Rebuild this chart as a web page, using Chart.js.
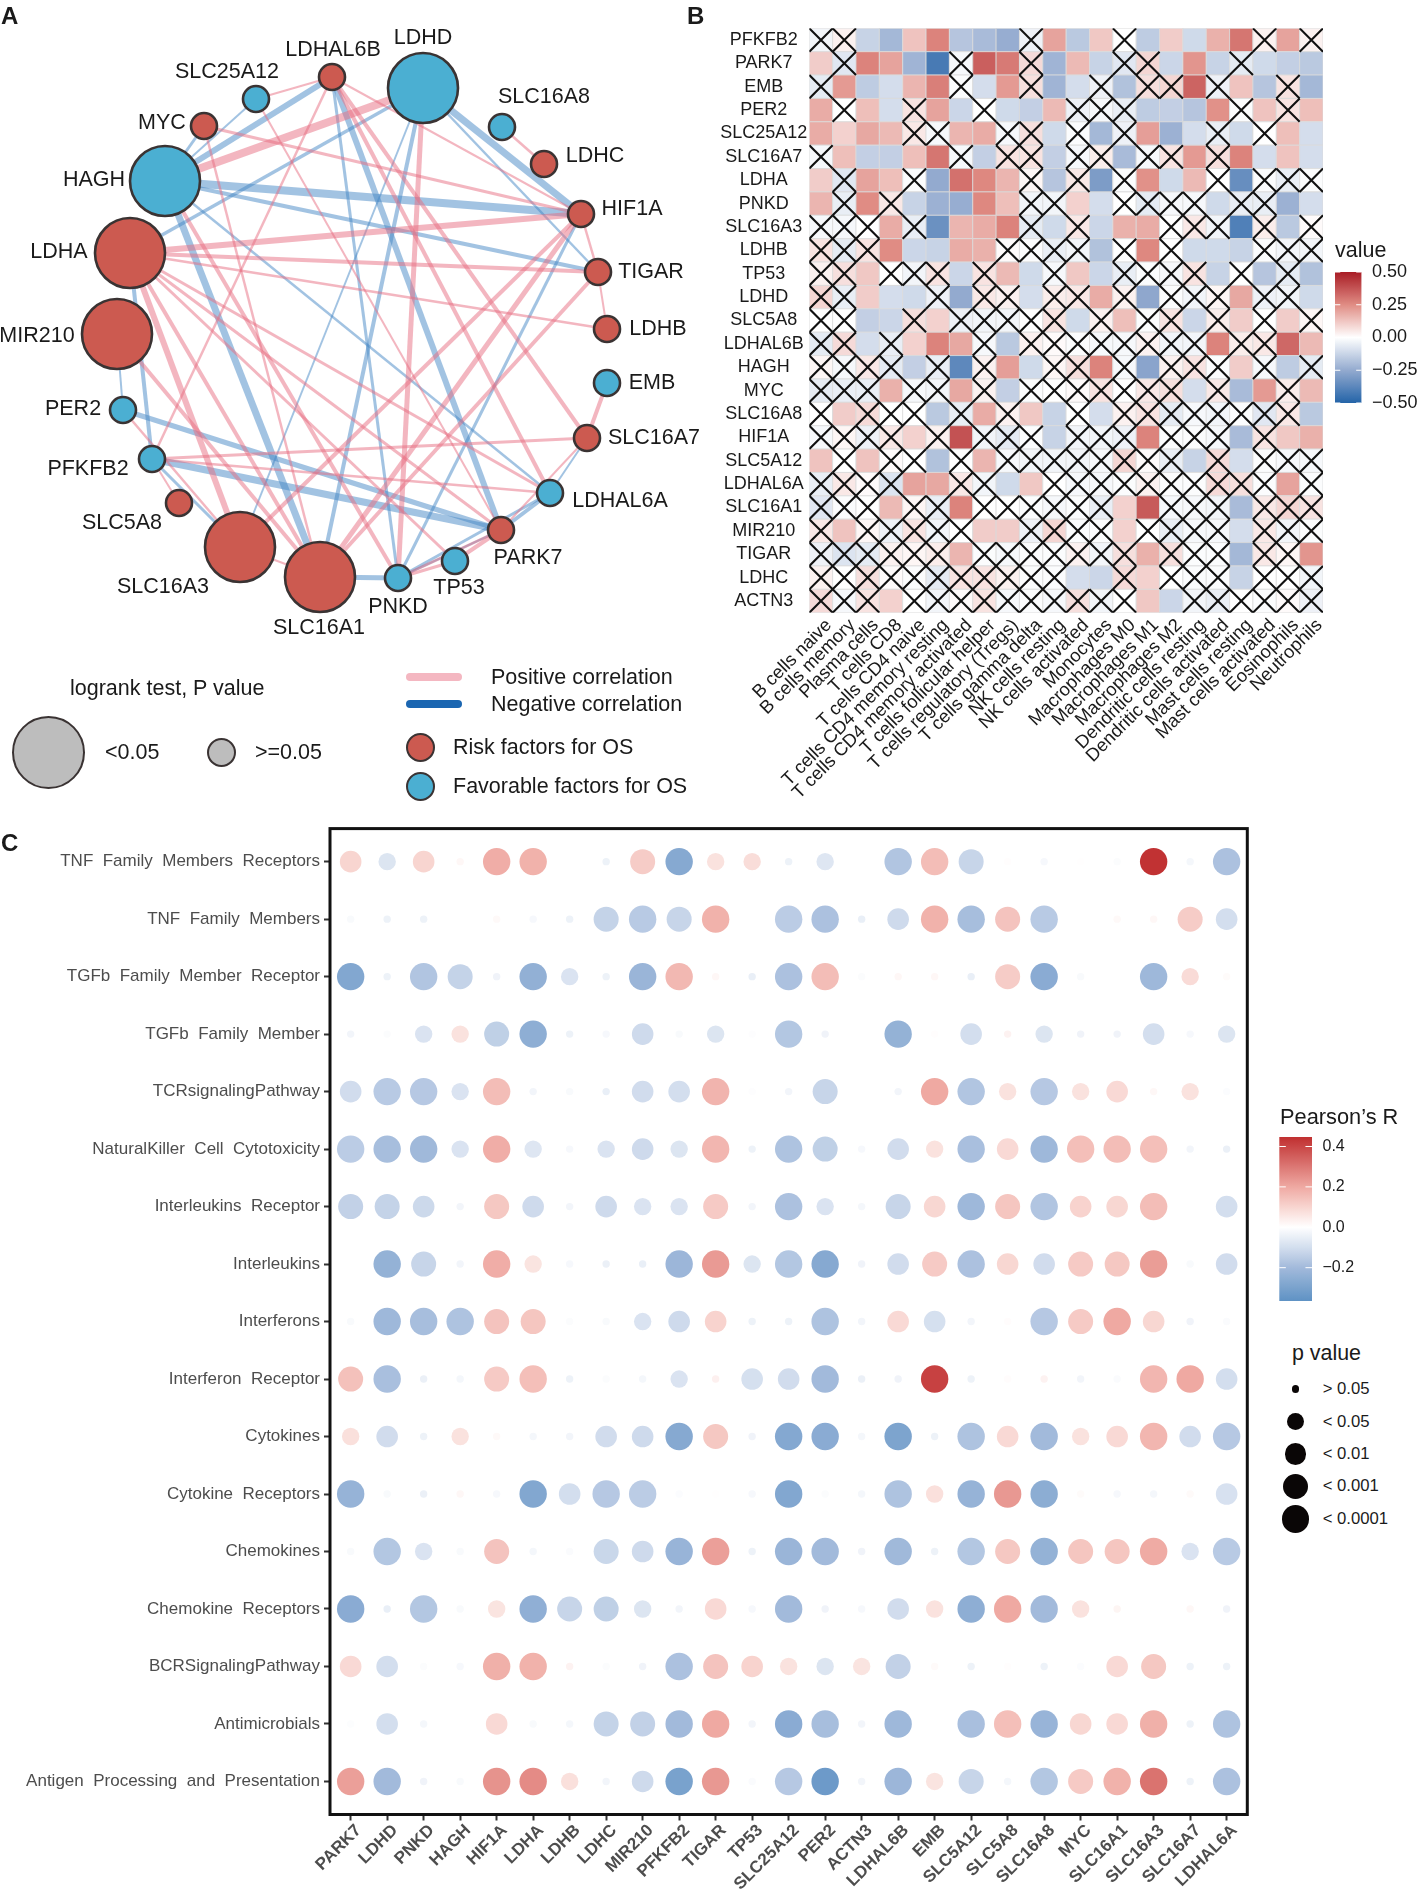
<!DOCTYPE html>
<html>
<head>
<meta charset="utf-8">
<title>Lactate genes</title>
<script src="https://cdn.jsdelivr.net/npm/chart.js@4/dist/chart.umd.min.js"></script>
<style>
  html, body { margin: 0; background: #fff; }
  #page { position: relative; width: 1418px; height: 1889px; overflow: hidden; font-family: "Liberation Sans", Arial, sans-serif; color: #1a1a1a; }
  #page canvas { position: absolute; }
  .txt { position: absolute; white-space: nowrap; transform: translateY(-50%); }
  .dot { position: absolute; border-radius: 50%; box-sizing: border-box; }
  .bar { position: absolute; border-radius: 4px; }
</style>
</head>
<body>
<div id="page">
  <canvas id="net" width="720" height="820" style="left:0;top:0"></canvas>
  <canvas id="heat" width="640" height="830" style="left:700px;top:0"></canvas>
  <canvas id="heatBar" width="93" height="150" style="left:1325px;top:262px"></canvas>
  <canvas id="dots" width="1260" height="1069" style="left:0;top:820px"></canvas>
  <canvas id="dotsBar" width="120" height="184" style="left:1269px;top:1127px"></canvas>
</div>
<script>
// Panel A: network, layout
const nodeNames = ["LDHD","SLC16A8","LDHC","HIF1A","TIGAR","LDHB","EMB","SLC16A7","LDHAL6A","PARK7","TP53","PNKD","SLC16A1","SLC16A3","SLC5A8","PFKFB2","PER2","MIR210","LDHA","HAGH","MYC","SLC25A12","LDHAL6B"];
const nodeX = [423,502,544,581,598,607,607,587,550,501,455,398,320,240,179,152,123,117,130,165,204,256,332];
const nodeY = [88,127,164,214,272,329,383,438,493,530,561,578,577,547,503,459,410,334,253,181,126,99,77];
const nodeSignificant = [1,0,0,0,0,0,0,0,0,0,0,0,1,1,0,0,0,1,1,1,0,0,0];
const nodeRisk = [0,0,1,1,1,1,0,1,0,1,0,0,1,1,1,0,0,1,1,0,1,0,1];
const labelX = [423,544,595,632,651,658,652,654,620,528,459,398,319,163,122,88,73,37,59,94,162,227,333];
const labelY = [38,97,156,209,272,329,383,438,501,558,588,607,628,587,523,469,409,336,252,180,123,72,50];
const posEdges = [
  ["LDHA","HIF1A",6],["LDHA","TIGAR",4],["LDHA","LDHB",2.5],["HAGH","LDHD",8],["MYC","HIF1A",3],
  ["LDHAL6B","SLC25A12",2],["LDHAL6B","HIF1A",2],["SLC16A8","LDHC",2.5],["HIF1A","TIGAR",2.5],
  ["TIGAR","LDHB",2],["LDHAL6B","LDHAL6A",4],["LDHAL6B","SLC16A7",4],["LDHAL6B","PFKFB2",2.5],["SLC25A12","PARK7",2],
  ["MYC","SLC16A1",2.5],["HAGH","PNKD",4],["LDHA","LDHAL6A",3],["LDHA","SLC16A3",6],["LDHA","TP53",3],
  ["LDHA","SLC16A1",4],["LDHA","PARK7",3],["PFKFB2","SLC16A7",3],["PFKFB2","LDHAL6A",2.5],["SLC16A3","SLC16A1",2],
  ["SLC16A1","HIF1A",5],["SLC16A1","TIGAR",4],["SLC16A3","HIF1A",4],["PNKD","TP53",3],["PNKD","PARK7",3],
  ["LDHD","PNKD",5],["EMB","SLC16A7",4],["PARK7","TP53",4],["PFKFB2","SLC5A8",2],["PER2","SLC16A3",2.5],
  ["MIR210","SLC16A1",4],["SLC16A7","PARK7",2]
];
const negEdges = [
  ["LDHD","HIF1A",7],["LDHD","TIGAR",2.5],["HAGH","HIF1A",8],["HAGH","TIGAR",4],["LDHA","LDHD",3.5],
  ["HAGH","LDHAL6B",6],["HAGH","MYC",3],["HAGH","SLC25A12",2],["LDHAL6B","PARK7",6],["LDHAL6B","PNKD",3],
  ["HAGH","SLC16A1",7],["HAGH","LDHAL6A",2.5],["LDHA","PFKFB2",4],["MIR210","PER2",2],["PFKFB2","SLC16A3",3],
  ["PER2","PARK7",5],["PFKFB2","PARK7",7],["SLC16A1","PNKD",5],["PNKD","PARK7",2],["PNKD","LDHAL6A",3],
  ["PNKD","HIF1A",3],["LDHD","SLC16A1",4],["LDHD","SLC16A3",2],["SLC16A7","LDHAL6A",2],["PARK7","LDHAL6A",4]
];

// Panel B: correlation heatmap
const heatGenes = ["PFKFB2","PARK7","EMB","PER2","SLC25A12","SLC16A7","LDHA","PNKD","SLC16A3","LDHB","TP53","LDHD","SLC5A8","LDHAL6B","HAGH","MYC","SLC16A8","HIF1A","SLC5A12","LDHAL6A","SLC16A1","MIR210","TIGAR","LDHC","ACTN3"];
const immuneCells = ["B cells naive","B cells memory","Plasma cells","T cells CD8","T cells CD4 naive","T cells CD4 memory resting","T cells CD4 memory activated","T cells follicular helper","T cells regulatory (Tregs)","T cells gamma delta","NK cells resting","NK cells activated","Monocytes","Macrophages M0","Macrophages M1","Macrophages M2","Dendritic cells resting","Dendritic cells activated","Mast cells resting","Mast cells activated","Eosinophils","Neutrophils"];
const heatValues = [
  [-.03,.03,-.13,-.21,.13,.27,-.17,-.2,-.24,-.04,.2,-.16,.12,0,-.15,.11,-.11,.17,.3,.03,.2,.03],
  [.11,-.07,.27,.2,-.22,-.42,-.02,.35,.29,.08,-.22,.15,-.13,-.07,.09,-.12,.23,-.13,-.06,-.11,-.14,-.16],
  [-.06,.22,-.15,-.1,.16,.28,-.01,-.1,.22,.07,-.22,-.1,-.04,-.18,.07,.09,.34,-.04,.13,-.17,.06,-.21],
  [.18,0,.14,-.1,.06,.2,-.12,0,-.11,-.14,.15,-.04,-.02,-.05,-.15,-.14,-.17,.24,-.01,.13,.06,.14],
  [.18,.1,.19,.15,.05,-.02,.16,.18,-.02,.07,-.11,-.01,-.21,-.04,.21,-.23,-.1,-.05,-.11,0,.14,-.1],
  [-.02,.14,-.14,-.14,.14,.3,-.02,-.14,.06,.06,-.14,-.02,.04,-.2,-.02,.06,.22,.07,.27,-.1,.13,-.1],
  [.11,-.07,.2,.14,-.01,-.25,.31,.26,.16,.02,-.17,.05,-.3,-.01,.24,-.11,.15,0,-.35,-.01,-.05,-.01],
  [.16,-.05,.25,.05,-.13,-.23,-.24,.26,.14,-.03,-.03,.1,-.1,0,-.06,-.02,-.02,-.11,-.05,-.05,-.23,-.1],
  [-.02,-.02,0,.18,-.05,-.34,.16,.18,.27,-.06,-.11,.05,-.12,.17,.18,0,.05,-.03,-.4,.04,-.16,.01],
  [.06,-.06,.06,.25,-.12,-.13,.18,.17,.01,-.01,-.05,-.03,-.18,0,.26,0,-.11,-.11,-.13,-.01,-.03,-.03],
  [.03,.07,.12,0,-.03,.06,-.12,.06,.15,-.11,-.02,.12,-.12,-.05,-.01,-.02,.06,-.13,0,-.17,-.06,-.18],
  [.09,-.05,.11,-.1,-.11,-.04,-.25,.05,.03,-.1,.04,.05,.18,.03,-.26,-.01,-.03,.02,.19,-.04,-.03,-.11],
  [0,0,-.14,-.12,.07,.1,-.04,-.03,-.03,0,.06,-.11,.03,.14,-.01,.06,-.12,.04,.11,0,.11,.02],
  [-.06,.08,-.1,-.05,.1,.27,.19,-.02,-.16,.03,.01,-.01,-.02,-.02,.03,-.03,-.03,.27,.04,.05,.33,.15],
  [.02,-.02,.05,-.06,-.14,-.05,-.37,.03,.21,-.11,.02,.07,.27,-.02,-.27,.03,.06,-.01,.11,-.02,-.15,-.06],
  [-.06,-.05,-.05,.17,-.02,-.03,.19,.03,-.14,-.01,0,.01,.06,0,.05,.07,-.1,.05,-.2,.22,.04,.15],
  [0,.11,.08,0,0,-.16,-.05,.18,.03,.12,-.13,0,-.1,.03,.06,-.06,-.02,-.03,-.01,-.07,.05,-.16],
  [-.02,.02,-.04,.05,.1,.03,.38,-.03,-.06,-.01,-.13,-.03,-.03,-.04,.27,-.01,-.01,-.02,-.2,.06,.12,.17],
  [.13,0,.13,.01,0,-.18,0,.16,-.02,-.03,-.03,-.03,-.02,.09,.01,-.05,-.13,.08,-.1,-.01,-.02,-.02],
  [-.05,.05,.01,-.08,.2,.19,.05,-.03,-.11,.12,0,-.02,-.02,-.01,.03,-.01,-.01,.08,.07,-.01,.2,-.01],
  [-.07,-.01,0,.15,.02,-.05,.27,0,0,-.01,-.02,-.01,-.05,.1,.36,-.02,-.02,-.03,-.2,.05,.09,.06],
  [.05,.13,.02,-.04,.06,-.03,0,.11,.11,-.04,.09,-.01,-.01,.1,0,-.05,-.02,-.02,-.1,.05,-.03,-.01],
  [-.04,-.08,-.06,.03,.02,.04,.16,-.01,-.02,-.01,-.01,.03,-.03,.07,.17,.07,-.01,-.01,-.21,.05,.02,.23],
  [.03,0,.07,.01,-.01,-.06,.06,.06,.03,-.01,-.01,-.1,-.12,.08,.1,0,-.01,-.01,-.13,0,0,-.03],
  [.08,-.02,.06,.1,0,-.03,.01,.06,-.02,-.01,-.02,.07,-.03,0,.12,-.12,-.03,-.05,0,-.01,.01,-.04]
];
const heatBarTicks = [-.5,-.25,0,.25,.5];

// Panel C: pathway dot plot
const pathways = ["TNF  Family  Members  Receptors","TNF  Family  Members","TGFb  Family  Member  Receptor","TGFb  Family  Member","TCRsignalingPathway","NaturalKiller  Cell  Cytotoxicity","Interleukins  Receptor","Interleukins","Interferons","Interferon  Receptor","Cytokines","Cytokine  Receptors","Chemokines","Chemokine  Receptors","BCRSignalingPathway","Antimicrobials","Antigen  Processing  and  Presentation"];
const dotGenes = ["PARK7","LDHD","PNKD","HAGH","HIF1A","LDHA","LDHB","LDHC","MIR210","PFKFB2","TIGAR","TP53","SLC25A12","PER2","ACTN3","LDHAL6B","EMB","SLC5A12","SLC5A8","SLC16A8","MYC","SLC16A1","SLC16A3","SLC16A7","LDHAL6A"];
const pearson = [
  [.1,-.08,.1,.02,.19,.18,0,-.04,.12,-.27,.07,.08,-.04,-.075,0,-.17,.155,-.125,.005,-.02,.003,-.01,.44,-.025,-.18],
  [-.015,-.04,-.04,0,.015,-.02,-.04,-.13,-.155,-.125,.18,0,-.15,-.18,-.05,-.11,.18,-.19,.14,-.155,0,.015,.02,.12,-.1],
  [-.28,-.04,-.17,-.13,-.035,-.24,-.085,-.04,-.22,.165,.02,-.05,-.18,.155,-.01,.02,.02,-.05,.12,-.26,-.015,0,-.21,.085,.01],
  [-.03,-.01,-.085,.07,-.14,-.25,-.04,-.02,-.11,-.015,-.08,-.005,-.165,-.035,0,-.235,.005,-.1,.03,-.08,-.035,-.035,-.1,-.02,-.08],
  [-.105,-.155,-.16,-.085,.155,-.03,-.015,-.05,-.105,-.1,.175,-.005,-.03,-.125,0,-.03,.2,-.17,.07,-.16,.07,.09,.02,.07,-.008],
  [-.15,-.19,-.205,-.085,.19,-.075,-.02,-.085,-.11,-.08,.17,-.04,-.175,-.14,-.02,-.105,.07,-.185,.09,-.21,.15,.155,.15,-.03,-.045],
  [-.135,-.13,-.115,-.03,.13,-.11,-.03,-.11,-.085,-.085,.125,-.03,-.18,-.085,-.025,-.125,.095,-.21,.135,-.17,.105,.095,.155,0,-.1],
  [0,-.235,-.125,-.03,.19,.065,-.02,-.045,-.05,-.215,.23,-.08,-.165,-.27,-.035,-.105,.125,-.18,.095,-.105,.125,.13,.225,-.015,-.105],
  [-.015,-.21,-.19,-.175,.14,.135,-.01,-.015,-.085,-.11,.105,-.04,-.04,-.175,-.03,.09,-.095,-.03,.006,-.16,.125,.2,.095,-.035,-.012],
  [.145,-.185,-.045,-.025,.125,.15,-.04,-.01,-.025,-.085,.035,-.095,-.105,-.2,-.045,-.035,.41,-.04,.006,.03,-.03,-.012,.17,.2,-.1],
  [.075,-.105,-.04,.07,.015,-.025,-.03,-.105,-.11,-.27,.13,-.035,-.275,-.26,-.025,-.29,-.04,-.175,.09,-.2,.07,.09,.17,-.105,-.16],
  [-.23,-.015,-.045,.02,-.02,-.28,-.1,-.16,-.15,-.008,.003,-.02,-.28,-.01,-.025,-.175,.075,-.23,.235,-.255,.01,-.02,-.025,.012,-.09],
  [-.015,-.165,-.085,-.015,.14,-.025,-.012,-.12,-.11,-.225,.22,-.04,-.22,-.2,-.035,-.205,-.04,-.165,.13,-.235,.135,.135,.195,-.085,-.155],
  [-.26,-.05,-.165,-.015,.065,-.245,-.125,-.14,-.08,-.03,.09,-.02,-.2,-.035,-.02,-.105,.07,-.25,.2,-.2,.07,.025,0,.02,-.035],
  [.09,-.1,-.01,-.02,.185,.18,.03,-.01,-.035,-.18,.14,.105,.07,-.08,.065,-.135,.012,-.04,.004,-.04,-.008,.09,.13,-.04,-.04],
  [-.006,-.1,-.025,0,.09,-.015,-.025,-.13,-.135,-.2,.2,-.03,-.26,-.19,-.03,-.21,0,-.185,.15,-.225,.095,.09,.185,-.04,-.175],
  [.22,-.2,-.035,-.015,.245,.26,.075,-.03,-.11,-.3,.235,-.012,-.16,-.33,-.03,-.215,.065,-.125,-.025,-.165,.125,.18,.31,-.04,-.18]
];
const dotBarTicks = [-.2,0,.2,.4];

const pLabels = ["> 0.05","< 0.05","< 0.01","< 0.001","< 0.0001"];
const pRadius = [3.7,8.7,10.8,12.5,13.7];

Chart.defaults.font.family = '"Liberation Sans", Arial, sans-serif';
Chart.defaults.animation = false;
Chart.defaults.layout.autoPadding = false;

// colour ramps, value -> colour stop pairs
const heatStops = [[-.5,"#2464A8"],[-.25,"#93AACF"],[0,"#FFFFFF"],[.25,"#E08C84"],[.5,"#A81C25"]];
const dotStops = [[-.365,"#5F92C4"],[-.2,"#A2BADB"],[-.1,"#D3DEEE"],[0,"#FFFFFF"],[.1,"#F8D5D0"],[.2,"#EFA9A2"],[.447,"#C02F30"]];

function rampColor(stops, v) {
  if (v <= stops[0][0]) return stops[0][1];
  for (let i = 1; i < stops.length; i++) {
    if (v <= stops[i][0]) {
      const t = (v - stops[i - 1][0]) / (stops[i][0] - stops[i - 1][0]);
      const a = parseInt(stops[i - 1][1].slice(1), 16);
      const b = parseInt(stops[i][1].slice(1), 16);
      const mix = (s) => Math.round(((a >> s) & 255) * (1 - t) + ((b >> s) & 255) * t);
      return `rgb(${mix(16)},${mix(8)},${mix(0)})`;
    }
  }
  return stops[stops.length - 1][1];
}

// fixes an axis band, so the plot area lands where the reference has it
function pin(size) {
  return (s) => {
    if (s.isHorizontal()) s.height = size; else s.width = size;
    s.paddingLeft = s.paddingRight = s.paddingTop = s.paddingBottom = 0;
  };
}

// linear axis with one tick per label
function indexAxis(labels, pad, bandSize, ticks, extra) {
  return Object.assign({
    type: "linear",
    min: -pad,
    max: labels.length - 1 + pad,
    afterBuildTicks: (s) => { s.ticks = labels.map((_, i) => ({ value: i })); },
    afterFit: pin(bandSize),
    border: { display: false },
    ticks: Object.assign({ autoSkip: false, callback: (v) => labels[v] }, ticks),
  }, extra);
}

const quiet = { legend: { display: false }, tooltip: { enabled: false } };

// ---- panel A ----
const nodeIndex = (name) => nodeNames.indexOf(name);

function edgeDatasets(edges, color) {
  return edges.map(([a, b, w]) => ({
    type: "line",
    data: [
      { x: nodeX[nodeIndex(a)], y: nodeY[nodeIndex(a)] },
      { x: nodeX[nodeIndex(b)], y: nodeY[nodeIndex(b)] },
    ],
    borderColor: color,
    borderWidth: w,
    pointRadius: 0,
    tension: 0,
    order: 2,
  }));
}

const nodeLabelPlugin = {
  id: "nodeLabels",
  afterDatasetsDraw(chart) {
    const { ctx, scales } = chart;
    ctx.save();
    ctx.font = '21.5px "Liberation Sans", Arial, sans-serif';
    ctx.fillStyle = "#1a1a1a";
    ctx.textAlign = "center";
    ctx.textBaseline = "middle";
    nodeNames.forEach((name, i) => {
      ctx.fillText(name, scales.x.getPixelForValue(labelX[i]), scales.y.getPixelForValue(labelY[i]));
    });
    ctx.restore();
  },
};

new Chart(document.getElementById("net"), {
  type: "bubble",
  data: {
    datasets: [
      {
        data: nodeNames.map((_, i) => ({ x: nodeX[i], y: nodeY[i], r: nodeSignificant[i] ? 35 : 13 })),
        backgroundColor: nodeRisk.map((r) => (r ? "#CC5A50" : "#4BAFD2")),
        borderColor: "#3A3333",
        borderWidth: 2.6,
        order: 1,
      },
      ...edgeDatasets(posEdges, "rgba(232,110,130,0.5)"),
      ...edgeDatasets(negEdges, "rgba(70,135,197,0.5)"),
    ],
  },
  options: {
    responsive: false,
    events: [],
    plugins: quiet,
    scales: {
      x: { display: false, min: 0, max: 720 },
      y: { display: false, min: 0, max: 820, reverse: true },
    },
  },
  plugins: [nodeLabelPlugin],
});

// ---- panel B ----
const heatPoints = [];
const heatColors = [];
const crossPoints = [];
heatValues.forEach((row, y) => row.forEach((v, x) => {
  heatPoints.push({ x, y });
  heatColors.push(rampColor(heatStops, v));
  if (Math.abs(v) < 0.095) crossPoints.push({ x, y });
}));

// half a cell diagonal, from the scale
const cellRadius = (ctx) => {
  const s = ctx.chart.scales.x;
  return Math.abs(s.getPixelForValue(1) - s.getPixelForValue(0)) * Math.SQRT1_2;
};

new Chart(document.getElementById("heat"), {
  type: "scatter",
  data: {
    datasets: [
      { data: heatPoints, pointStyle: "rect", radius: cellRadius, backgroundColor: heatColors, borderColor: "#DADADA", borderWidth: 0.8, order: 2 },
      { data: crossPoints, pointStyle: "crossRot", radius: cellRadius, borderColor: "#111", borderWidth: 2.1, order: 1 },
    ],
  },
  options: {
    responsive: false,
    events: [],
    layout: { padding: { top: 28.3, right: 17 } },
    plugins: quiet,
    scales: {
      x: indexAxis(immuneCells, 0.5, 217.3,
        { minRotation: 45, maxRotation: 45, padding: 2, labelOffset: 8, color: "#1a1a1a", font: { size: 18.4 } },
        { grid: { display: false, drawTicks: false } }),
      y: indexAxis(heatGenes, 0.5, 109.3,
        { crossAlign: "center", padding: 2, color: "#1a1a1a", font: { size: 18 } },
        { reverse: true, grid: { display: false, drawTicks: false } }),
    },
  },
});

// ---- colour bars ----
const barTickPlugin = {
  id: "barTicks",
  afterDatasetsDraw(chart) {
    const { ctx, chartArea: a, scales } = chart;
    const len = (a.right - a.left) / 5;
    ctx.save();
    ctx.strokeStyle = "#fff";
    ctx.lineWidth = 1;
    scales.y.ticks.forEach((t) => {
      const y = scales.y.getPixelForValue(t.value);
      ctx.beginPath();
      ctx.moveTo(a.left, y); ctx.lineTo(a.left + len, y);
      ctx.moveTo(a.right - len, y); ctx.lineTo(a.right, y);
      ctx.stroke();
    });
    ctx.restore();
  },
};

function colorBar(id, stops, lo, hi, tickValues, digits, fontSize, pad, axisWidth) {
  new Chart(document.getElementById(id), {
    type: "bar",
    data: {
      labels: [""],
      datasets: [{
        data: [[lo, hi]],
        barPercentage: 1,
        categoryPercentage: 1,
        backgroundColor: (ctx) => {
          const { chart } = ctx;
          if (!chart.chartArea) return "transparent";
          const y = chart.scales.y;
          const g = chart.ctx.createLinearGradient(0, y.getPixelForValue(lo), 0, y.getPixelForValue(hi));
          for (let i = 0; i <= 40; i++) g.addColorStop(i / 40, rampColor(stops, lo + ((hi - lo) * i) / 40));
          return g;
        },
      }],
    },
    options: {
      responsive: false,
      events: [],
      layout: { padding: pad },
      plugins: quiet,
      scales: {
        x: { display: false },
        y: {
          position: "right",
          min: lo,
          max: hi,
          afterBuildTicks: (s) => { s.ticks = tickValues.map((value) => ({ value })); },
          afterFit: pin(axisWidth),
          border: { display: false },
          grid: { display: false, drawTicks: false },
          ticks: {
            autoSkip: false,
            padding: 10.5,
            color: "#1a1a1a",
            font: { size: fontSize },
            callback: (v) => v.toFixed(digits).replace("-", "\u2212"),
          },
        },
      },
    },
    plugins: [barTickPlugin],
  });
}

colorBar("heatBar", heatStops, -.5, .5, heatBarTicks, 2, 18, { left: 10, top: 10, bottom: 9 }, 56.5);
colorBar("dotsBar", dotStops, -.365, .447, dotBarTicks, 1, 16, { left: 10.3, top: 10, bottom: 10 }, 77);

// ---- panel C ----
function dotRadius(r) {
  const a = Math.abs(r);
  if (a < .06) return pRadius[0];
  if (a < .09) return pRadius[1];
  if (a < .12) return pRadius[2];
  if (a < .15) return pRadius[3];
  return pRadius[4];
}

const framePlugin = {
  id: "frame",
  afterDraw(chart) {
    const { ctx, chartArea: a } = chart;
    ctx.save();
    ctx.strokeStyle = "#111";
    ctx.lineWidth = 3;
    ctx.strokeRect(a.left, a.top, a.right - a.left, a.bottom - a.top);
    ctx.restore();
  },
};

const dotPoints = [];
const dotColors = [];
pearson.forEach((row, y) => row.forEach((v, x) => {
  dotPoints.push({ x, y, r: dotRadius(v) });
  dotColors.push(rampColor(dotStops, v));
}));

const dotTickGrid = { drawOnChartArea: false, tickLength: 6, tickColor: "#333", tickWidth: 2 };

new Chart(document.getElementById("dots"), {
  type: "bubble",
  data: { datasets: [{ data: dotPoints, backgroundColor: dotColors, borderWidth: 0 }] },
  options: {
    responsive: false,
    events: [],
    layout: { padding: { top: 8.6, right: 12.7 } },
    plugins: quiet,
    scales: {
      x: indexAxis(dotGenes, 0.566, 74.5,
        { minRotation: 45, maxRotation: 45, padding: 0, labelOffset: 8, color: "#4D4D4D", font: { size: 17, weight: "bold" } },
        { grid: dotTickGrid }),
      y: indexAxis(pathways, 0.575, 330,
        { padding: 4, color: "#4D4D4D", font: { size: 17 } },
        { reverse: true, grid: dotTickGrid }),
    },
  },
  plugins: [framePlugin],
});

// ---- page text and legend keys ----
const page = document.getElementById("page");

function addText(str, x, y, size, weight) {
  const d = document.createElement("div");
  d.className = "txt";
  d.textContent = str;
  d.style.cssText = `left:${x}px;top:${y}px;font-size:${size}px;font-weight:${weight || "normal"}`;
  page.appendChild(d);
}

function addDot(x, y, r, fill, stroke) {
  const d = document.createElement("div");
  d.className = "dot";
  d.style.cssText = `left:${x - r}px;top:${y - r}px;width:${2 * r}px;height:${2 * r}px;background:${fill};` +
    (stroke ? `border:2.6px solid ${stroke}` : "");
  page.appendChild(d);
}

function addBar(x, y, w, color) {
  const d = document.createElement("div");
  d.className = "bar";
  d.style.cssText = `left:${x}px;top:${y - 4}px;width:${w}px;height:8px;background:${color}`;
  page.appendChild(d);
}

addText("A", 1, 16, 24, "bold");
addText("B", 687, 16, 24, "bold");
addText("C", 1, 843, 24, "bold");

addText("logrank test, P value", 70, 688, 21.5);
addDot(48, 752, 36.5, "#BDBDBD", "#3A3333");
addText("<0.05", 105, 752, 21.5);
addDot(221, 752, 14.5, "#BDBDBD", "#3A3333");
addText(">=0.05", 255, 752, 21.5);
addBar(406, 677, 56, "#F4B7C1");
addBar(406, 704, 56, "#1B66B1");
addText("Positive correlation", 491, 677, 21.5);
addText("Negative correlation", 491, 704, 21.5);
addDot(420, 747, 14.5, "#CC5A50", "#3A3333");
addDot(420, 786, 14.5, "#4BAFD2", "#3A3333");
addText("Risk factors for OS", 453, 747, 21.5);
addText("Favorable factors for OS", 453, 786, 21.5);

addText("value", 1335, 250, 21.5);
addText("Pearson\u2019s R", 1280, 1117, 21.8);
addText("p value", 1292, 1353, 21.4);

const pKeyY = [1389, 1421.6, 1453.8, 1486, 1519];
pLabels.forEach((label, i) => {
  addDot(1295.7, pKeyY[i], pRadius[i], "#0a0606");
  addText(label, 1322.7, pKeyY[i], 16.7);
});
</script>
</body>
</html>
